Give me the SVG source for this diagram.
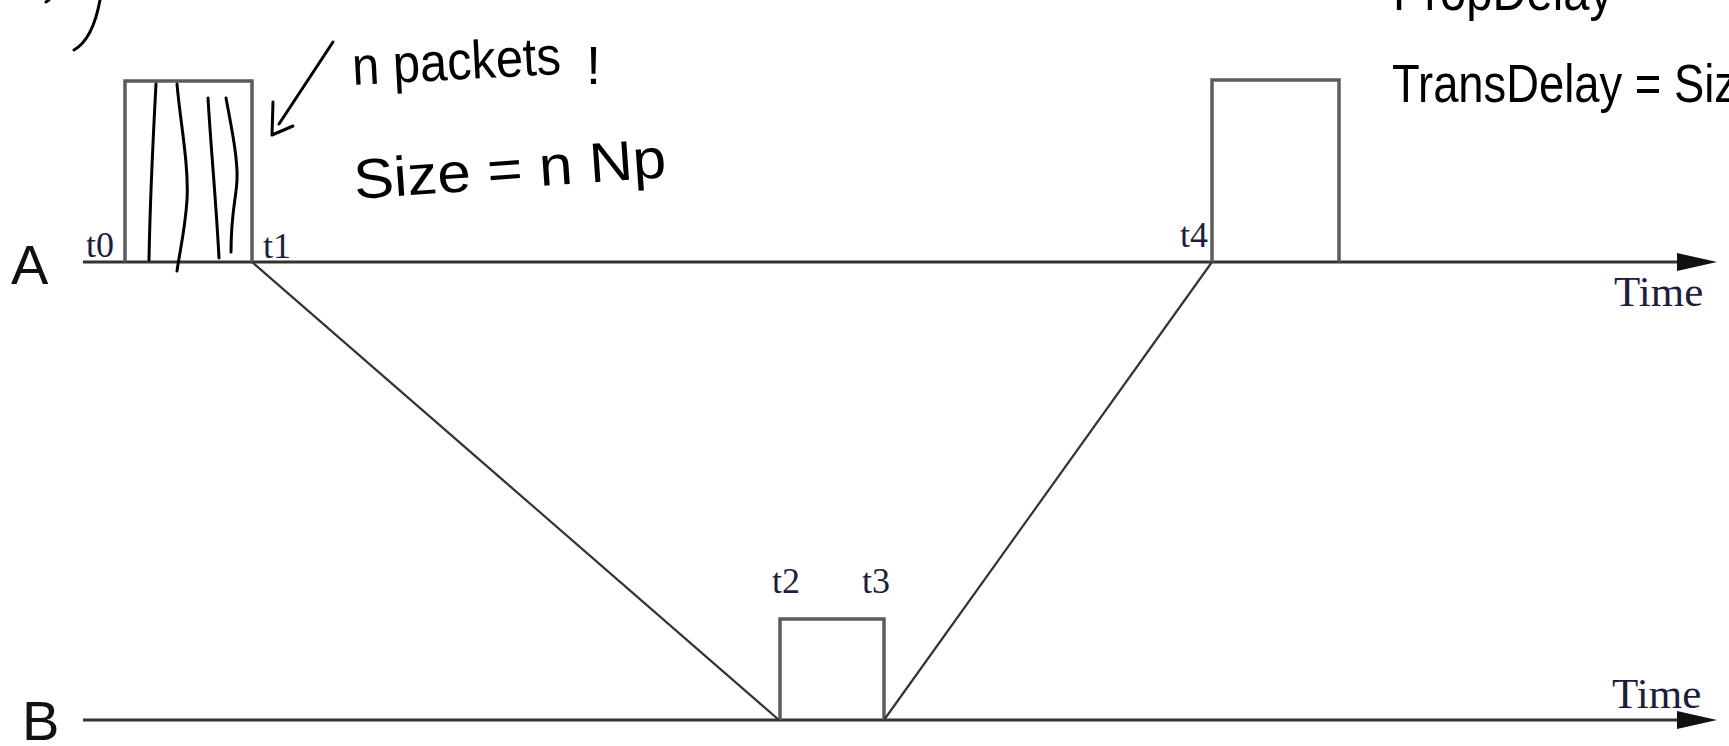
<svg xmlns="http://www.w3.org/2000/svg" width="1729" height="746" viewBox="0 0 1729 746">
<style>
.ax{stroke:#333;stroke-width:3;fill:none}
.box{stroke:#5c5c5c;stroke-width:3.5;fill:none}
.diag{stroke:#333;stroke-width:2.2;fill:none}
.hw{stroke:#000;stroke-width:3;fill:none;stroke-linecap:round;stroke-linejoin:round}
.tl{font-family:"Liberation Serif",serif;font-size:36px;fill:#1d1d3d}
.tm{font-family:"Liberation Serif",serif;font-size:43px;fill:#1d1d3d}
.big{font-family:"Liberation Sans",Arial,sans-serif;font-size:56px;fill:#111}
.hand{font-family:"Liberation Sans",Arial,sans-serif;fill:#000}
</style>
<defs>
<marker id="arr" markerUnits="userSpaceOnUse" markerWidth="40" markerHeight="18" refX="0" refY="9" orient="auto">
<path d="M0,0 L40,9 L0,18 z" fill="#111"/>
</marker>
</defs>
<rect width="1729" height="746" fill="#fff"/>

<g id="axisA">
<line class="ax" x1="83" y1="262" x2="1677" y2="262" marker-end="url(#arr)"/>
<text class="big" x="11" y="284">A</text>
<text class="tm" x="1614" y="306">Time</text>
</g>
<g id="axisB">
<line class="ax" x1="83" y1="720" x2="1677" y2="720" marker-end="url(#arr)"/>
<text class="big" x="22" y="740">B</text>
<text class="tm" x="1612" y="708">Time</text>
</g>

<g id="packetA1">
<polyline class="box" points="125,262 125,81 252,81 252,262"/>
<text class="tl" x="86" y="257">t0</text>
<text class="tl" x="263" y="258">t1</text>
</g>
<g id="packetB">
<polyline class="box" points="780,720 780,619 884,619 884,720"/>
<text class="tl" x="772" y="593">t2</text>
<text class="tl" x="862" y="593">t3</text>
</g>
<g id="packetA2">
<polyline class="box" points="1212,262 1212,80 1339,80 1339,262"/>
<text class="tl" x="1180" y="247">t4</text>
</g>

<g id="connectors">
<line class="diag" x1="252" y1="262" x2="779" y2="720"/>
<line class="diag" x1="884" y1="720" x2="1212" y2="262"/>
</g>

<g id="handwriting">
<path class="hw" d="M156,84 C153,140 150,200 149,260"/>
<path class="hw" d="M177,84 C180,120 189,165 187,200 C185,230 180,250 177,271"/>
<path class="hw" d="M208,98 C211,150 216,200 219,258"/>
<path class="hw" d="M226,98 C232,130 238,160 237,180 C236,200 231,212 231,252"/>
<path class="hw" d="M333,42 L279,124"/>
<path class="hw" d="M273,102 L272,135 L293,126"/>
<path class="hw" d="M100,0 C96,22 88,42 74,50"/>
<path class="hw" d="M46,2 L49,0"/>
<text class="hand" font-size="54" x="353" y="85" transform="rotate(-3 353 85)" textLength="209" lengthAdjust="spacingAndGlyphs">n packets</text>
<text class="hand" font-size="54" x="586" y="84">!</text>
<text class="hand" font-size="56" x="355" y="199" transform="rotate(-4 355 199)" textLength="313" lengthAdjust="spacingAndGlyphs">Size = n Np</text>
<text class="hand" font-size="54" x="1392" y="102" textLength="345" lengthAdjust="spacingAndGlyphs">TransDelay = Siz</text>
<text class="hand" font-size="54" x="1393" y="10" textLength="220" lengthAdjust="spacingAndGlyphs">PropDelay</text>
</g>
</svg>
